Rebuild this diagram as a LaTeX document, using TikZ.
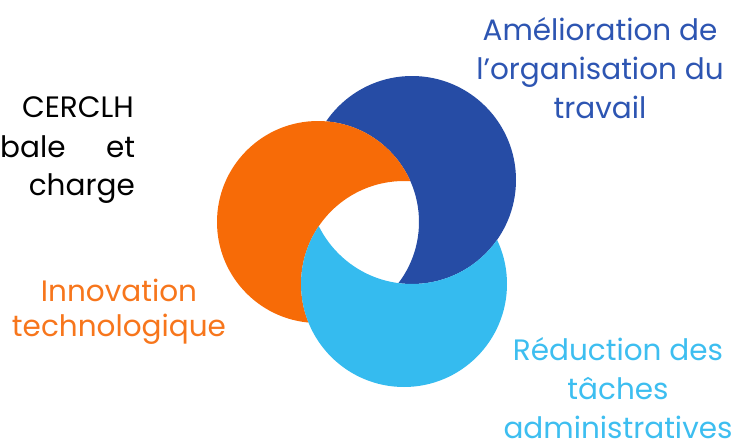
\documentclass[tikz,border=0pt]{standalone}
\usepackage{fontspec}
\setmainfont{Poppins}
\definecolor{orangeC}{HTML}{F76B07}
\definecolor{darkblueC}{HTML}{264CA5}
\definecolor{lightblueC}{HTML}{35BBEF}
\definecolor{darkblueT}{HTML}{2D55B2}
\definecolor{orangeT}{HTML}{F7761C}
\definecolor{lightblueT}{HTML}{3DBEF0}

\tikzset{
  ring label/.style={font=\fontsize{29.5}{39}\selectfont, align=center, inner sep=0pt},
  body text/.style={font=\fontsize{29.5}{39}\selectfont, inner sep=0pt, text=black},
}

\begin{document}
\begin{tikzpicture}[x=1pt, y=-1pt]
\useasboundingbox (0,0) rectangle (734,442);

% centres of the three rings
\coordinate (o) at (318,222);
\coordinate (b) at (412,180);
\coordinate (l) at (404,284);

% dark blue ring: its circle minus the orange one
\begin{scope}
\clip (b) circle[radius=104pt];
\fill[darkblueC, even odd rule] (0,0) rectangle (734,442) (o) circle[radius=101pt];
\end{scope}

% orange ring: its circle minus the light blue one
\begin{scope}
\clip (o) circle[radius=101pt];
\fill[orangeC, even odd rule] (0,0) rectangle (734,442) (l) circle[radius=103pt];
\end{scope}

% light blue ring: its circle minus the dark blue one
\begin{scope}
\clip (l) circle[radius=103pt];
\fill[lightblueC, even odd rule] (0,0) rectangle (734,442) (b) circle[radius=104pt];
\end{scope}

% labels, placed by the baseline of their last line
\node[ring label, text=darkblueT, anchor=base] (amelioration) at (600,118) {Amélioration de\\l’organisation du\\travail};
\node[ring label, text=orangeT, anchor=base, font=\fontsize{29.5}{35}\selectfont] (innovation) at (119,336) {Innovation\\technologique};
\node[ring label, text=lightblueT, anchor=base] (reduction) at (618,438) {Réduction des\\tâches\\administratives};

\node[body text, anchor=base east] (cerclh) at (134,117) {CERCLH};
\node[body text, anchor=base west] (bale) at (0,157) {\hbox to 135pt{bale\hfill et}};
\node[body text, anchor=base east] (charge) at (135,195) {charge};

\end{tikzpicture}
\end{document}
